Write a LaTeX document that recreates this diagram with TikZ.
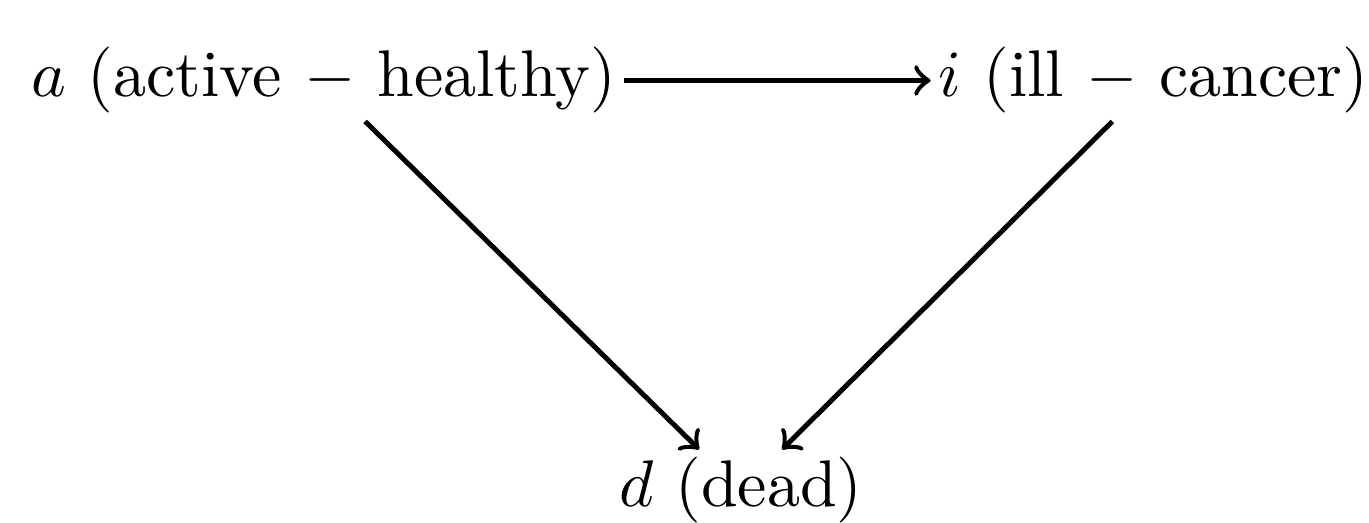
\documentclass[tikz,border=0pt]{standalone}
\usetikzlibrary{positioning}

\begin{document}
\begin{tikzpicture}[
    >=to,
    state/.style={inner sep=1pt, anchor=base west},
    arrow/.style={->, line width=0.75pt},
]
\useasboundingbox (0,0) rectangle (207.4pt,79.1pt);
\node[state] (a) at (3.5pt,64.4pt) {$a$ (active $-$ healthy)};
\node[state] (i) at (141pt,64.4pt) {$i$ (ill $-$ cancer)};
\node[state] (d) at (92.6pt,2.3pt) {$d$ (dead)};

\draw[arrow] (a) -- (i);
\draw[arrow] (a) -- (d);
\draw[arrow] (i) -- (d);
\end{tikzpicture}
\end{document}
